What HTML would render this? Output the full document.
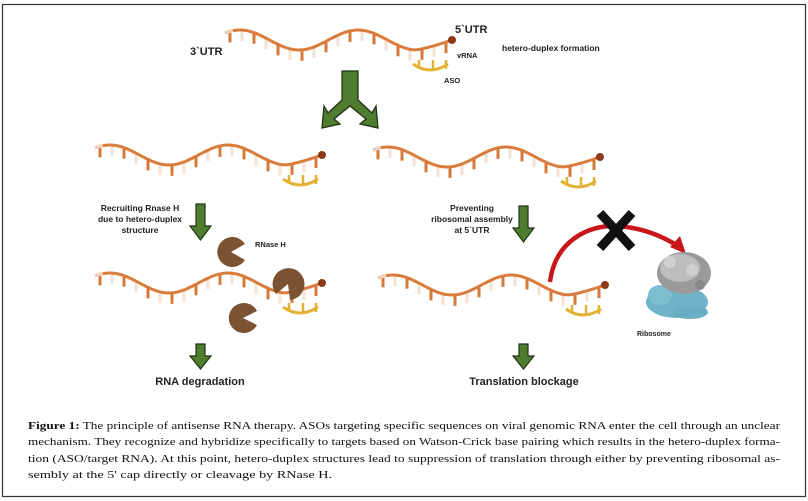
<!DOCTYPE html>
<html><head><meta charset="utf-8"><style>
html,body{margin:0;padding:0;background:#fff;}
svg{display:block;}
.s{font-family:"Liberation Sans",sans-serif;font-weight:bold;fill:#222;}
.c{font-family:"Liberation Serif",serif;font-size:11px;fill:#111;}
</style></head><body>
<svg id="g" width="808" height="501" viewBox="0 0 808 501" xmlns="http://www.w3.org/2000/svg">
<rect x="2.5" y="4.5" width="803" height="492" fill="#fff" stroke="#333" stroke-width="1.2"/>
<g id="strands"></g>
<text class="s" x="190" y="55" font-size="11">3`UTR</text>
<text class="s" x="455" y="33" font-size="11">5`UTR</text>
<text class="s" x="457" y="58" font-size="7.5" font-weight="normal">vRNA</text>
<text class="s" x="444" y="83" font-size="7.5" font-weight="normal">ASO</text>
<text class="s" x="502" y="51" font-size="8.5" font-weight="normal">hetero-duplex formation</text>
<path d="M342,71 L358,71 L358,100 L372,113 L376,106 L378,128 L360,124 L366,119 L350,106 L334,119 L340,124 L322,128 L324,106 L328,113 L342,100 Z" fill="#4e7d2f" stroke="#223316" stroke-width="1.3"/>
<g fill="#4e7d2f" stroke="#223316" stroke-width="1.2">
<path d="M196,204 h9 v22 h6 l-10.5,14 l-10.5,-14 h6 z"/>
<path d="M196,344 h9 v12 h6 l-10.5,13 l-10.5,-13 h6 z"/>
<path d="M519,206 h9 v22 h6 l-10.5,14 l-10.5,-14 h6 z"/>
<path d="M519,344 h9 v12 h6 l-10.5,13 l-10.5,-13 h6 z"/>
</g>
<text class="s" font-size="8.5" text-anchor="middle" style="font-weight:600"><tspan x="140" y="211">Recruiting Rnase H</tspan><tspan x="140" y="222">due to hetero-duplex</tspan><tspan x="140" y="233">structure</tspan></text>
<text class="s" font-size="8.5" text-anchor="middle" style="font-weight:600"><tspan x="472" y="211">Preventing</tspan><tspan x="472" y="222">ribosomal assembly</tspan><tspan x="472" y="233">at 5`UTR</tspan></text>
<text class="s" x="255" y="247" font-size="7.5" font-weight="normal">RNase H</text>
<text class="s" x="200" y="385" font-size="11" text-anchor="middle">RNA degradation</text>
<text class="s" x="524" y="385" font-size="11" text-anchor="middle">Translation blockage</text>
<g fill="#7b5232">
<path d="M231,252 L245,244 A15,15 0 1 0 245,260 Z"/>
<path d="M288,284 L276,294 A16,16 0 1 1 290,300 Z"/>
<path d="M243,318 L257,311 A15,15 0 1 0 257,325 Z"/>
</g>
<path d="M550,282 C555,240 590,225 615,226 C640,227 662,236 678,246" fill="none" stroke="#c8161b" stroke-width="4.5"/>
<path d="M686,254 L670,247 L680,236 Z" fill="#c8161b"/>
<g stroke="#111" stroke-width="9"><line x1="600" y1="213" x2="632" y2="248"/><line x1="632" y1="213" x2="600" y2="248"/></g>
<g>
<ellipse cx="677" cy="302" rx="31" ry="16" fill="#6fb3c8"/>
<ellipse cx="660" cy="295" rx="12" ry="10" fill="#7dbdd0"/>
<ellipse cx="690" cy="312" rx="18" ry="7" fill="#6aaec4"/>
<ellipse cx="684" cy="273" rx="27" ry="21" fill="#9a9a9a"/>
<ellipse cx="680" cy="268" rx="20" ry="14" fill="#bdbdbd"/>
<circle cx="670" cy="262" r="6" fill="#d0d0d0"/><circle cx="692" cy="270" r="6" fill="#cfcfcf"/><circle cx="700" cy="285" r="5" fill="#888"/>
</g>
<text class="s" x="637" y="336" font-size="7" style="font-weight:600">Ribosome</text>
<text class="c" x="28" y="429" textLength="752" lengthAdjust="spacingAndGlyphs"><tspan font-weight="bold">Figure 1:</tspan> The principle of antisense RNA therapy. ASOs targeting specific sequences on viral genomic RNA enter the cell through an unclear</text>
<text class="c" x="28" y="445" textLength="752" lengthAdjust="spacingAndGlyphs">mechanism. They recognize and hybridize specifically to targets based on Watson-Crick base pairing which results in the hetero-duplex forma-</text>
<text class="c" x="28" y="462" textLength="752" lengthAdjust="spacingAndGlyphs">tion (ASO/target RNA). At this point, hetero-duplex structures lead to suppression of translation through either by preventing ribosomal as-</text>
<text class="c" x="28" y="478" textLength="304" lengthAdjust="spacingAndGlyphs">sembly at the 5' cap directly or cleavage by RNase H.</text>
</svg>
<script>
(function(){
var NS="http://www.w3.org/2000/svg",g=document.getElementById("strands");
function el(t,a){var e=document.createElementNS(NS,t);for(var k in a)e.setAttribute(k,a[k]);g.appendChild(e);return e;}
function y(x){ if(x>190){var t=(x-190)/37;return 12-10*Math.pow(t,1.3);} return 2-10*Math.cos(2*Math.PI*(x-15)/118);}
function strand(ox,oy){
 var i,pts=[];
 for(i=5;i<=225;i+=12){var yy=y(i),solid=(Math.round(i/12)%2===0);
  el("line",{x1:ox+i,y1:oy+yy,x2:ox+i,y2:oy+yy+11,stroke:solid?"#d4793a":"#f6e1d2","stroke-width":3});}
 for(i=0;i<=227;i+=2)pts.push((ox+i)+","+(oy+y(i)).toFixed(1));
 el("polyline",{points:pts.join(" "),fill:"none",stroke:"#d97c3c","stroke-width":3});
 el("line",{x1:ox,y1:oy+y(0),x2:ox+8,y2:oy+y(8),stroke:"#f2d0b8","stroke-width":3});
 el("circle",{cx:ox+227,cy:oy+y(227),r:4,fill:"#8a3a18"});
 el("path",{d:"M"+(ox+188)+","+(oy+26)+" Q"+(ox+205)+","+(oy+38)+" "+(ox+223)+","+(oy+26),fill:"none",stroke:"#e2b232","stroke-width":3});
 [194,208,221].forEach(function(x){el("line",{x1:ox+x,y1:oy+22,x2:ox+x,y2:oy+31,stroke:"#e2b232","stroke-width":2.5});});
}
strand(225,38);strand(95,153);strand(373,155);strand(95,281);strand(378,283);
})();
</script>
</body></html>
